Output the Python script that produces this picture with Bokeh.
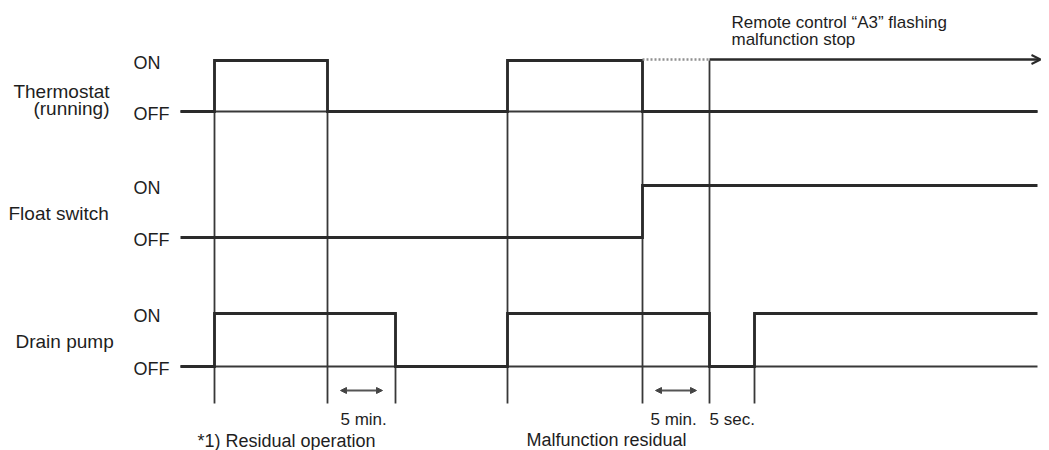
from bokeh.plotting import figure
from bokeh.models import Range1d, Arrow, NormalHead, OpenHead, Label
from bokeh.embed import file_html
from bokeh.resources import INLINE

# ---------------- data (time axis in chart units) ----------------
therm_times = [180, 214, 327, 507, 642, 1037]
therm_states = [0, 1, 0, 1, 0]
float_times = [180, 642, 1037]
float_states = [0, 1]
pump_times = [180, 214, 395, 507, 709, 754, 1037]
pump_states = [0, 1, 0, 1, 0, 1]
stop_time = 709
stop_end = 1040
guide_times_full = [214, 327, 507, 642, 709]
guide_times_pump = [395, 754]
span_starts = [327, 642]
span_ends = [395, 709]
signal_labels = [["Thermostat", "(running)"], ["Float switch"], ["Drain pump"]]
state_labels = ["ON", "OFF"]
span_labels = ["5 min.", "5 min.", "5 sec."]
note_labels = ["*1) Residual operation", "Malfunction residual"]
stop_label = ["Remote control \u201cA3\u201d flashing", "malfunction stop"]

# ---------------- layout ----------------
FONT = "Liberation Sans"
FS = "17px"
TXT = "#1e1e1e"
SIG = "#2a2a2a"
GUIDE = "#383838"

lanes = [  # (on_y, off_y)
    (60, 111),
    (185, 237),
    (313, 366),
]

p = figure(width=1049, height=450, output_backend="svg", toolbar_location=None,
           x_range=Range1d(0, 1049), y_range=Range1d(450, 0),
           x_axis_type=None, y_axis_type=None, min_border=0)
p.outline_line_color = None
p.grid.visible = False
p.background_fill_color = "white"


def step(times, states, on_y, off_y):
    xs, ys = [], []
    for i, s in enumerate(states):
        y = on_y if s else off_y
        xs += [times[i], times[i + 1]]
        ys += [y, y]
    return xs, ys


# baselines (OFF level) for thermostat and pump
for (on_y, off_y), times in [(lanes[0], therm_times), (lanes[2], pump_times)]:
    p.line([times[0], times[-1]], [off_y, off_y], line_color=GUIDE, line_width=1.8)

# guides
top_y = lanes[0][0]
bot_y = 403
for t in guide_times_full:
    p.line([t, t], [top_y, bot_y], line_color=GUIDE, line_width=1.8)
for t in guide_times_pump:
    p.line([t, t], [lanes[2][0], bot_y], line_color=GUIDE, line_width=1.8)

# signals
for (on_y, off_y), times, states in [(lanes[0], therm_times, therm_states),
                                     (lanes[1], float_times, float_states),
                                     (lanes[2], pump_times, pump_states)]:
    xs, ys = step(times, states, on_y, off_y)
    p.line(xs, ys, line_color=SIG, line_width=2.8, line_join="miter")

# dotted continuation and malfunction stop arrow
p.line([therm_times[4], stop_time], [top_y - 1, top_y - 1], line_color="#909090",
       line_width=2.6, line_dash="2 2")
p.add_layout(Arrow(end=OpenHead(size=9, line_width=2, line_color=SIG),
                   x_start=stop_time, y_start=top_y - 1, x_end=stop_end, y_end=top_y - 1,
                   line_color=SIG, line_width=2.4))

# 5 min double arrows
for s, e in zip(span_starts, span_ends):
    inset = 13
    p.add_layout(Arrow(start=NormalHead(size=6, line_color="#444", fill_color="#444", line_width=1),
                       end=NormalHead(size=6, line_color="#444", fill_color="#444", line_width=1),
                       x_start=s + inset, x_end=e - inset, y_start=390, y_end=390,
                       line_color="#555", line_width=2.2))


def lab(x, y, text, align="left", size=FS):
    p.add_layout(Label(x=x, y=y, text=text, text_font=FONT, text_font_size=size,
                       text_color=TXT, text_align=align, text_baseline="middle"))


# state labels
for on_y, off_y in lanes:
    lab(133, on_y + 2, state_labels[0], size="18px")
    lab(133, off_y + 2, state_labels[1], size="18px")

# signal labels
LS = "19px"
lab(109, 91, signal_labels[0][0], "right", LS)
lab(109, 108, signal_labels[0][1], "right", LS)
lab(8, 213, signal_labels[1][0], size=LS)
lab(15, 341, signal_labels[2][0], size=LS)

# bottom labels
lab(340, 419, span_labels[0])
lab(650, 419, span_labels[1])
lab(709, 419, span_labels[2])
lab(197, 440, note_labels[0], size="18px")
lab(526, 439, note_labels[1], size="18px")

# top-right label
lab(731, 22, stop_label[0])
lab(731, 39, stop_label[1])

open("out.html", "w").write(file_html(p, INLINE))
